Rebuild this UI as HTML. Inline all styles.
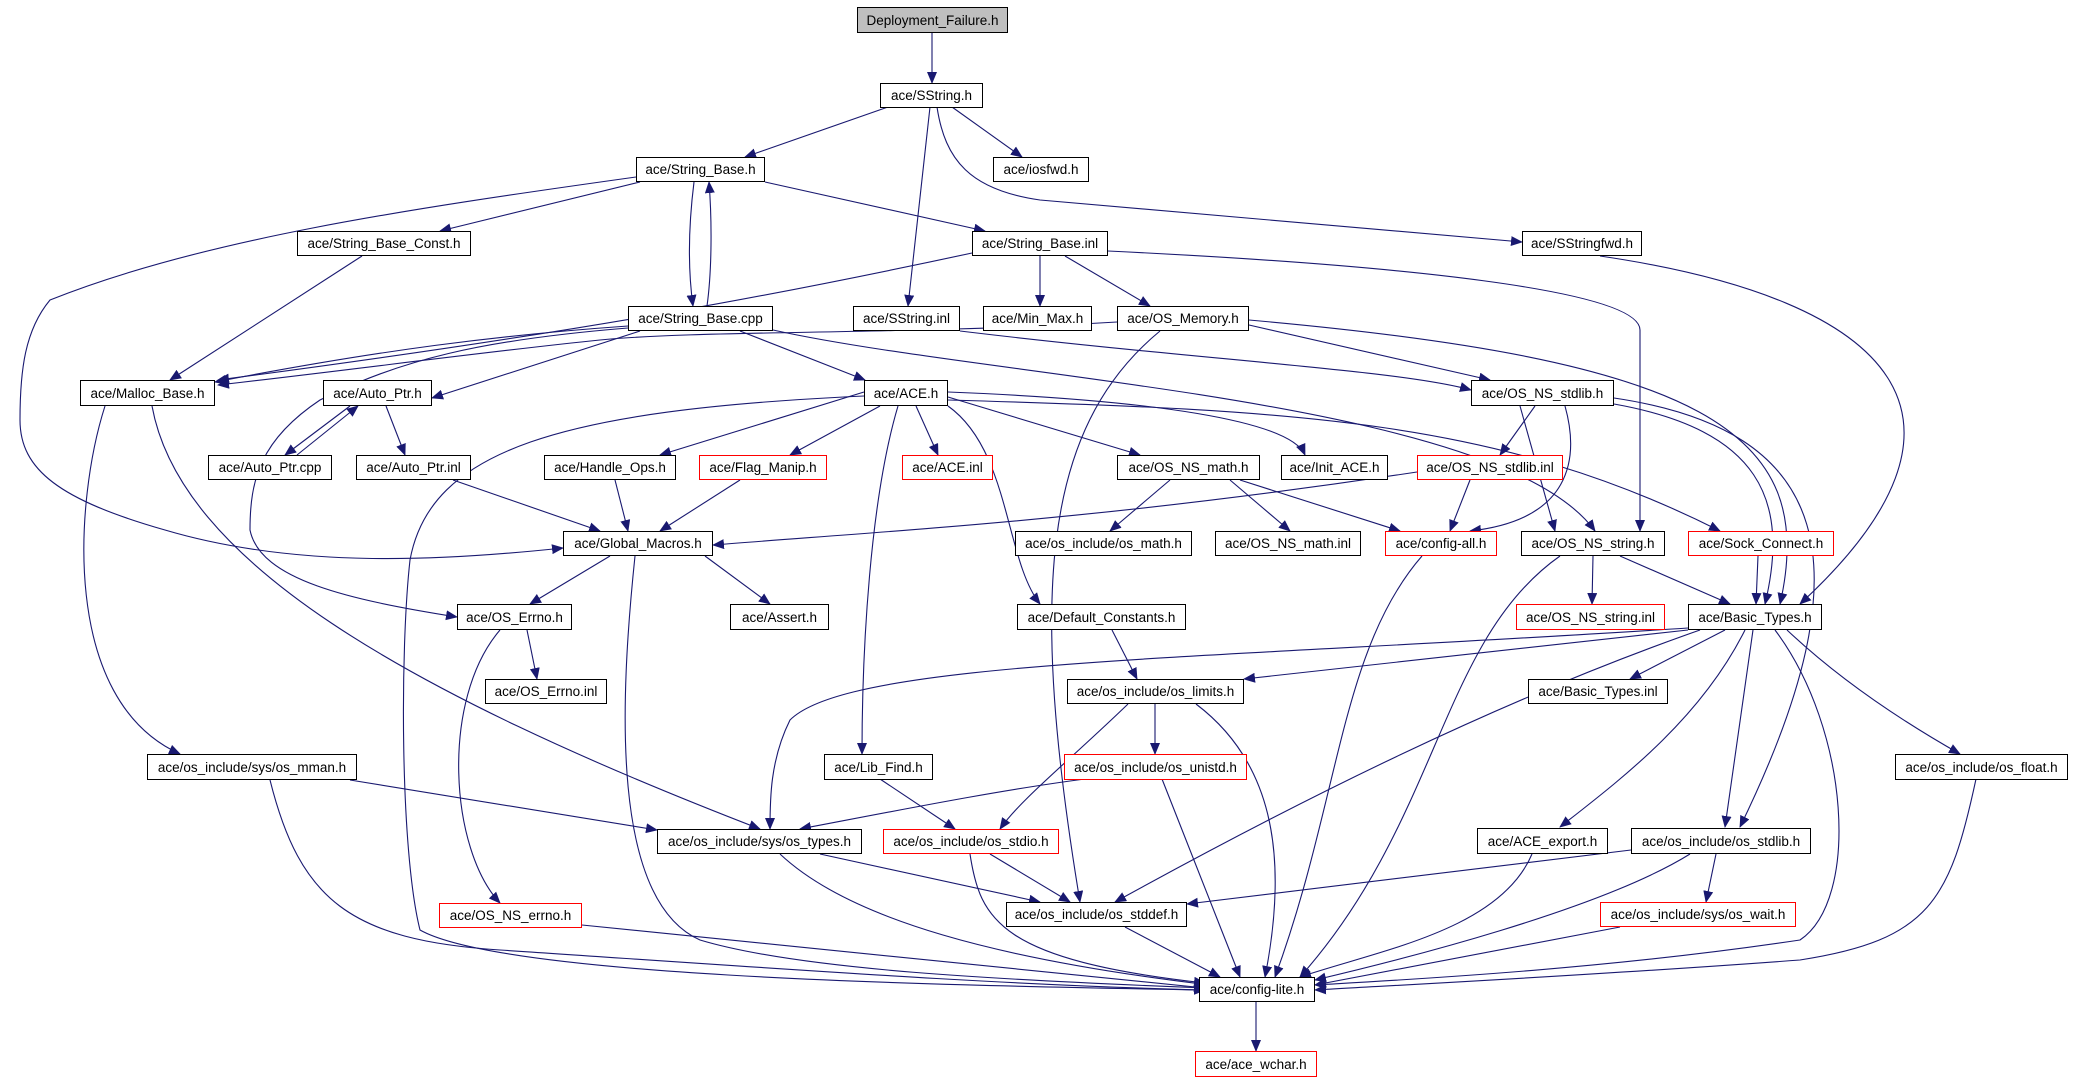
<!DOCTYPE html>
<html><head><meta charset="utf-8"><style>
body{margin:0;background:#fff;width:2073px;height:1083px;position:relative;overflow:hidden}
.n{position:absolute;box-sizing:border-box;border:1.3px solid #000;background:#fff;font-family:"Liberation Sans",sans-serif;font-size:13.5px;display:flex;align-items:center;justify-content:center;white-space:nowrap;color:#000}
.r{border-color:#f00}
svg{position:absolute;left:0;top:0}
</style></head><body>
<svg width="2073" height="1083" viewBox="0 0 2073 1083">
<defs><marker id="a" markerUnits="userSpaceOnUse" markerWidth="12" markerHeight="10" refX="11" refY="5" orient="auto"><path d="M0,0 L12,5 L0,10 z" fill="#191970"/></marker></defs>
<g fill="none" stroke="#191970" stroke-width="1.1" marker-end="url(#a)">
<path d="M932,33 L932,83"/>
<path d="M888,107 L745,157"/>
<path d="M952,107 L1022,157"/>
<path d="M930,107 L908,306"/>
<path d="M937,107 C945,160 970,190 1040,200 L1522,242"/>
<path d="M640,182 L440,231"/>
<path d="M765,182 L985,231"/>
<path d="M694,182 C688,230 688,270 693,306"/>
<path d="M707,306 C712,270 712,220 709,182"/>
<path d="M636,177 C400,210 200,240 50,300 C25,330 20,370 20,420 C20,470 60,500 165,530 C300,570 450,560 563,548"/>
<path d="M362,256 L170,380"/>
<path d="M972,253 C800,290 600,330 218,380"/>
<path d="M1040,256 L1040,306"/>
<path d="M1065,256 L1150,306"/>
<path d="M1108,251 C1400,265 1640,290 1640,330 L1640,531"/>
<path d="M628,326 C500,335 380,350 215,382"/>
<path d="M1117,322 C900,335 700,330 600,340 C500,350 350,370 218,385"/>
<path d="M640,331 L432,398"/>
<path d="M740,331 L865,380"/>
<path d="M628,328 C480,340 400,360 320,400 C260,440 250,480 250,530 C260,580 350,600 457,617"/>
<path d="M773,330 C1000,380 1500,400 1595,531"/>
<path d="M152,406 C180,560 400,690 760,829"/>
<path d="M960,331 C1200,360 1400,370 1471,390"/>
<path d="M1249,325 L1490,380"/>
<path d="M1160,331 C1040,430 1030,600 1080,902"/>
<path d="M1249,320 C1700,360 1820,430 1780,604"/>
<path d="M105,406 C75,500 60,700 180,754"/>
<path d="M350,406 L285,455"/>
<path d="M297,455 L358,406"/>
<path d="M386,406 L405,455"/>
<path d="M453,480 L600,531"/>
<path d="M864,396 C560,410 430,450 410,560 C400,650 400,850 420,930 C500,975 900,985 1205,990"/>
<path d="M864,392 L660,455"/>
<path d="M880,406 L790,455"/>
<path d="M916,406 L938,455"/>
<path d="M898,406 C870,500 862,650 862,754"/>
<path d="M948,406 C1010,450 1005,560 1040,604"/>
<path d="M948,397 L1140,455"/>
<path d="M948,392 C1150,400 1290,420 1305,455"/>
<path d="M948,400 C1300,410 1500,420 1720,531"/>
<path d="M615,480 L628,531"/>
<path d="M740,480 L660,531"/>
<path d="M1170,480 L1110,531"/>
<path d="M1230,480 L1290,531"/>
<path d="M1240,480 L1400,531"/>
<path d="M1535,406 L1500,455"/>
<path d="M1565,406 C1580,460 1570,520 1470,531"/>
<path d="M1520,406 L1555,531"/>
<path d="M1470,480 L1450,531"/>
<path d="M1417,472 C1100,520 900,530 713,545"/>
<path d="M1614,398 C1830,430 1870,560 1740,827"/>
<path d="M1614,404 C1760,430 1790,500 1765,604"/>
<path d="M1600,256 C1900,300 2000,420 1800,604"/>
<path d="M1422,556 C1340,650 1340,800 1275,977"/>
<path d="M1593,556 L1592,604"/>
<path d="M1620,556 L1730,604"/>
<path d="M1560,556 C1440,640 1440,820 1300,977"/>
<path d="M1758,556 L1756,604"/>
<path d="M610,556 L530,604"/>
<path d="M705,556 L770,604"/>
<path d="M635,556 C620,700 610,900 700,940 C800,970 1000,980 1205,988"/>
<path d="M527,630 L537,679"/>
<path d="M500,630 C440,700 450,850 500,903"/>
<path d="M1112,630 L1137,679"/>
<path d="M1688,630 L1244,679"/>
<path d="M1688,628 C1200,660 850,660 790,720 C770,760 770,800 770,829"/>
<path d="M1700,630 C1500,700 1300,800 1115,902"/>
<path d="M1725,630 L1630,679"/>
<path d="M1745,630 C1700,720 1620,780 1560,827"/>
<path d="M1753,630 L1725,827"/>
<path d="M1775,630 C1850,730 1860,900 1800,940 C1600,970 1400,980 1315,985"/>
<path d="M1787,630 C1840,680 1900,720 1960,754"/>
<path d="M1155,704 L1155,754"/>
<path d="M1128,704 C1070,760 1020,800 1000,829"/>
<path d="M1196,704 C1270,760 1290,850 1265,977"/>
<path d="M1085,779 C1000,790 900,810 800,829"/>
<path d="M1162,779 L1240,977"/>
<path d="M350,780 L657,830"/>
<path d="M270,780 C300,900 350,940 500,950 C800,970 1000,985 1205,990"/>
<path d="M880,779 L955,829"/>
<path d="M820,854 L1040,902"/>
<path d="M780,854 C850,920 1000,960 1210,985"/>
<path d="M990,854 L1070,902"/>
<path d="M970,854 C980,920 1000,960 1205,983"/>
<path d="M582,925 L1205,988"/>
<path d="M1125,927 L1220,977"/>
<path d="M1532,854 C1500,930 1380,950 1300,977"/>
<path d="M1631,850 L1187,904"/>
<path d="M1716,854 L1706,902"/>
<path d="M1690,854 C1600,910 1400,960 1315,980"/>
<path d="M1620,927 L1315,985"/>
<path d="M1976,779 C1950,900 1930,940 1800,960 C1600,975 1400,985 1315,990"/>
<path d="M1256,1002 L1256,1051"/>
</g></svg>
<div class="n" style="left:857px;top:7px;width:151px;height:26px;background:#bfbfbf">Deployment_Failure.h</div>
<div class="n" style="left:880px;top:83px;width:103px;height:25px">ace/SString.h</div>
<div class="n" style="left:636px;top:157px;width:129px;height:25px">ace/String_Base.h</div>
<div class="n" style="left:993px;top:157px;width:96px;height:25px">ace/iosfwd.h</div>
<div class="n" style="left:297px;top:231px;width:174px;height:25px">ace/String_Base_Const.h</div>
<div class="n" style="left:972px;top:231px;width:136px;height:25px">ace/String_Base.inl</div>
<div class="n" style="left:1522px;top:231px;width:120px;height:25px">ace/SStringfwd.h</div>
<div class="n" style="left:628px;top:306px;width:145px;height:25px">ace/String_Base.cpp</div>
<div class="n" style="left:853px;top:306px;width:107px;height:25px">ace/SString.inl</div>
<div class="n" style="left:983px;top:306px;width:109px;height:25px">ace/Min_Max.h</div>
<div class="n" style="left:1117px;top:306px;width:132px;height:25px">ace/OS_Memory.h</div>
<div class="n" style="left:80px;top:380px;width:135px;height:26px">ace/Malloc_Base.h</div>
<div class="n" style="left:323px;top:380px;width:109px;height:26px">ace/Auto_Ptr.h</div>
<div class="n" style="left:864px;top:380px;width:84px;height:26px">ace/ACE.h</div>
<div class="n" style="left:1471px;top:380px;width:143px;height:26px">ace/OS_NS_stdlib.h</div>
<div class="n" style="left:208px;top:455px;width:124px;height:25px">ace/Auto_Ptr.cpp</div>
<div class="n" style="left:356px;top:455px;width:115px;height:25px">ace/Auto_Ptr.inl</div>
<div class="n" style="left:544px;top:455px;width:132px;height:25px">ace/Handle_Ops.h</div>
<div class="n r" style="left:699px;top:455px;width:128px;height:25px">ace/Flag_Manip.h</div>
<div class="n r" style="left:902px;top:455px;width:91px;height:25px">ace/ACE.inl</div>
<div class="n" style="left:1117px;top:455px;width:143px;height:25px">ace/OS_NS_math.h</div>
<div class="n" style="left:1281px;top:455px;width:107px;height:25px">ace/Init_ACE.h</div>
<div class="n r" style="left:1417px;top:455px;width:146px;height:25px">ace/OS_NS_stdlib.inl</div>
<div class="n" style="left:563px;top:531px;width:150px;height:25px">ace/Global_Macros.h</div>
<div class="n" style="left:1015px;top:531px;width:177px;height:25px">ace/os_include/os_math.h</div>
<div class="n" style="left:1215px;top:531px;width:146px;height:25px">ace/OS_NS_math.inl</div>
<div class="n r" style="left:1385px;top:531px;width:112px;height:25px">ace/config-all.h</div>
<div class="n" style="left:1521px;top:531px;width:144px;height:25px">ace/OS_NS_string.h</div>
<div class="n r" style="left:1688px;top:531px;width:146px;height:25px">ace/Sock_Connect.h</div>
<div class="n" style="left:457px;top:604px;width:115px;height:26px">ace/OS_Errno.h</div>
<div class="n" style="left:730px;top:604px;width:99px;height:26px">ace/Assert.h</div>
<div class="n" style="left:1017px;top:604px;width:169px;height:26px">ace/Default_Constants.h</div>
<div class="n r" style="left:1516px;top:604px;width:149px;height:26px">ace/OS_NS_string.inl</div>
<div class="n" style="left:1688px;top:604px;width:134px;height:26px">ace/Basic_Types.h</div>
<div class="n" style="left:485px;top:679px;width:122px;height:25px">ace/OS_Errno.inl</div>
<div class="n" style="left:1067px;top:679px;width:177px;height:25px">ace/os_include/os_limits.h</div>
<div class="n" style="left:1528px;top:679px;width:140px;height:25px">ace/Basic_Types.inl</div>
<div class="n" style="left:147px;top:754px;width:210px;height:26px">ace/os_include/sys/os_mman.h</div>
<div class="n" style="left:824px;top:754px;width:109px;height:26px">ace/Lib_Find.h</div>
<div class="n r" style="left:1064px;top:754px;width:183px;height:26px">ace/os_include/os_unistd.h</div>
<div class="n" style="left:1895px;top:754px;width:173px;height:26px">ace/os_include/os_float.h</div>
<div class="n" style="left:657px;top:829px;width:205px;height:25px">ace/os_include/sys/os_types.h</div>
<div class="n r" style="left:883px;top:829px;width:176px;height:25px">ace/os_include/os_stdio.h</div>
<div class="n" style="left:1477px;top:828px;width:131px;height:26px">ace/ACE_export.h</div>
<div class="n" style="left:1631px;top:828px;width:180px;height:26px">ace/os_include/os_stdlib.h</div>
<div class="n r" style="left:439px;top:903px;width:143px;height:25px">ace/OS_NS_errno.h</div>
<div class="n" style="left:1006px;top:902px;width:181px;height:25px">ace/os_include/os_stddef.h</div>
<div class="n r" style="left:1600px;top:902px;width:196px;height:25px">ace/os_include/sys/os_wait.h</div>
<div class="n" style="left:1199px;top:977px;width:116px;height:25px">ace/config-lite.h</div>
<div class="n r" style="left:1195px;top:1051px;width:122px;height:26px">ace/ace_wchar.h</div>
</body></html>
